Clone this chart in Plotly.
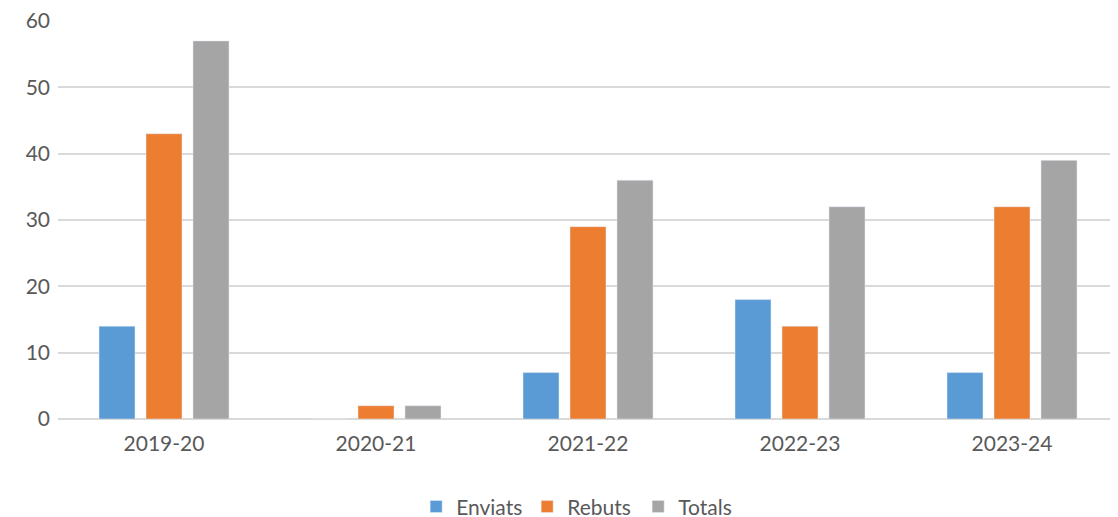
import plotly.graph_objects as go

categories = ["2019-20", "2020-21", "2021-22", "2022-23", "2023-24"]
enviats = [14, 0, 7, 18, 7]
rebuts = [43, 2, 29, 14, 32]
totals = [57, 2, 36, 32, 39]

fig = go.Figure()
fig.add_trace(go.Bar(name="Enviats", x=categories, y=enviats, marker_color="#5B9BD5"))
fig.add_trace(go.Bar(name="Rebuts", x=categories, y=rebuts, marker_color="#ED7D31"))
fig.add_trace(go.Bar(name="Totals", x=categories, y=totals, marker_color="#A5A5A5"))

fig.update_layout(
    width=1118, height=517,
    margin=dict(l=50, r=8, t=13, b=106, autoexpand=False),
    barmode="group", bargap=0.335, bargroupgap=0.234,
    plot_bgcolor="white", paper_bgcolor="white",
    font=dict(family="Lato, Open Sans, sans-serif", size=21, color="#595959"),
    legend=dict(orientation="h", x=0.514, xanchor="center", xref="container",
                y=0.035, yanchor="middle", yref="container",
                font=dict(size=21), traceorder="normal",
                entrywidth=66, entrywidthmode="pixels"),
    xaxis=dict(showgrid=False, showline=False, ticks="", tickfont=dict(size=21),
               ticklabelstandoff=10, automargin=False),
    yaxis=dict(range=[0, 60], dtick=10, gridcolor="#D9D9D9", gridwidth=1.5,
               zeroline=True, zerolinecolor="#D9D9D9", zerolinewidth=1.5,
               ticks="", ticklabelstandoff=7, tickfont=dict(size=21), automargin=False,
               ticklabeloverflow="allow"),
)
fig.write_html("out.html")
